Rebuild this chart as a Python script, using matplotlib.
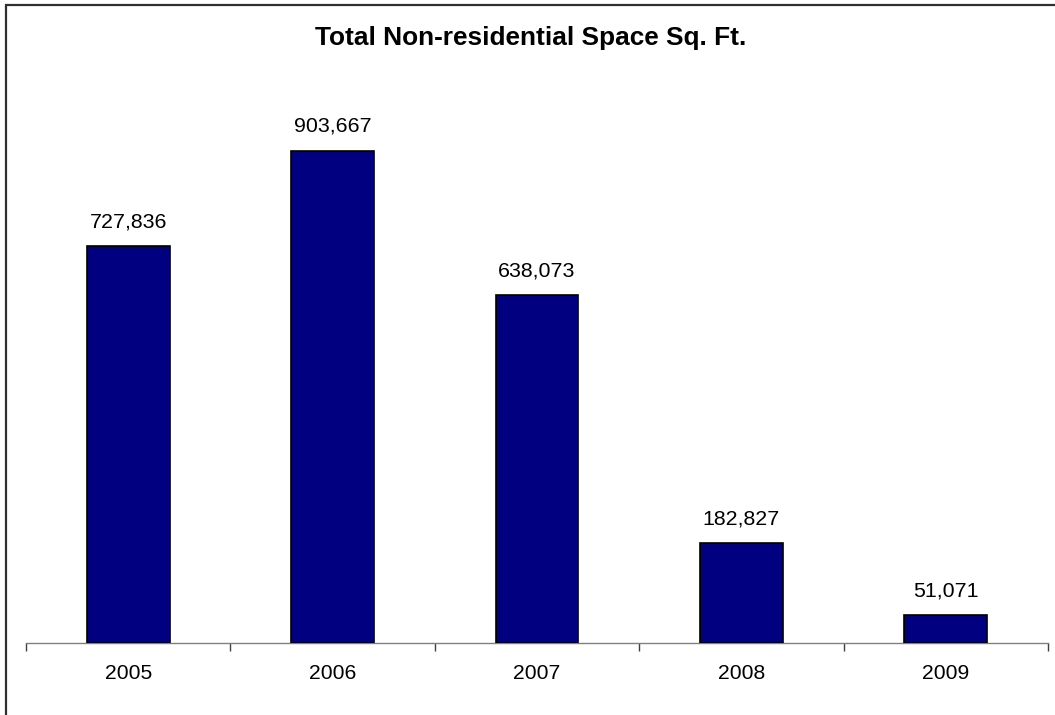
import matplotlib
matplotlib.use("Agg")
import matplotlib.pyplot as plt
from matplotlib.patches import Rectangle

years = ["2005", "2006", "2007", "2008", "2009"]
values = [727836, 903667, 638073, 182827, 51071]
title = "Total Non-residential Space Sq. Ft."

plt.rcParams['font.family'] = ['Liberation Sans', 'DejaVu Sans']

W, H = 1055, 715
fig = plt.figure(figsize=(W / 100, H / 100), dpi=100)
fig.patch.set_facecolor("white")

# outer chart border (extends beyond right/bottom edge)
fig.patches.append(Rectangle((6 / W, -0.05), 1.2, (H - 5) / H + 0.05,
                             transform=fig.transFigure, fill=False,
                             edgecolor="#303030", linewidth=1.6))

ax = fig.add_axes([26 / W, 72 / H, (1048 - 26) / W, 545 / H])
x = list(range(len(years)))
ax.bar(x, values, width=0.405, color="#000080", edgecolor="black", linewidth=1.2, zorder=3)
ax.set_xlim(-0.5, len(years) - 0.5)
ax.set_ylim(0, 1000000)

for xi, v in zip(x, values):
    ax.annotate(f"{v:,}", (xi, v), xytext=(0, 19), textcoords="offset pixels",
                ha="center", va="baseline", fontsize=15.4, color="black")

for s in ["top", "right", "left"]:
    ax.spines[s].set_visible(False)
ax.spines["bottom"].set_color("#808080")
ax.spines["bottom"].set_linewidth(1.0)
ax.set_yticks([])
ax.set_xticks([i - 0.5 for i in range(len(years) + 1)], minor=False)
ax.set_xticklabels([])
ax.tick_params(axis="x", which="major", length=6, color="#404040", width=1.0)
ax.set_xticks(x, minor=True)
ax.set_xticklabels(years, minor=True, fontsize=15.2)
ax.tick_params(axis="x", which="minor", length=0, pad=15)
ax.set_facecolor("white")

fig.text(531 / W, 1 - 38 / H, title, ha="center", va="center",
         fontsize=18.9, fontweight="bold")

fig.savefig("out.png", dpi=100)
